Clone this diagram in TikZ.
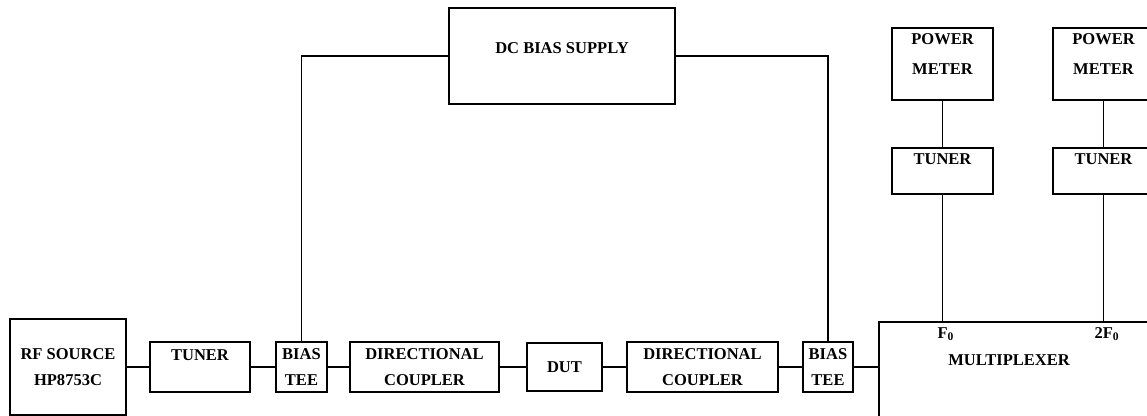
\documentclass[tikz,border=0pt]{standalone}
\usepackage{fontspec}
\setmainfont{Liberation Serif}
\usetikzlibrary{positioning, calc}
\tikzset{every node/.style={font=\fontsize{9.4}{15}\selectfont\bfseries}}
\colorlet{boxline}{black}
\colorlet{wirecol}{black}

\begin{document}
\begin{tikzpicture}[
  blk/.style={draw=boxline, line width=1.1pt, inner sep=0pt, align=center},
  lbl/.style={inner sep=1pt, align=center},
  wire/.style={draw=wirecol, line width=0.9pt}]

\useasboundingbox (0,0) rectangle (22.94,8.30);
\clip (0,0) rectangle (22.94,8.30);

% RF chain
\node[blk, minimum width=2.32cm, minimum height=1.92cm] (rfsrc) at (1.36,0.96) {RF SOURCE\\HP8753C};
\node[blk, minimum width=2.0cm, minimum height=1.0cm,
      label={[lbl, below=3.5pt]north:TUNER}] (tunA) at (4.0,0.96) {};
\node[blk, minimum width=1.02cm, minimum height=1.0cm] (teeA) at (6.03,0.96) {BIAS\\TEE};
\node[blk, minimum width=2.98cm, minimum height=1.0cm] (cplA) at (8.49,0.96) {DIRECTIONAL\\COUPLER};
\node[blk, minimum width=1.5cm, minimum height=0.96cm] (dut) at (11.29,0.96) {DUT};
\node[blk, minimum width=3.02cm, minimum height=1.0cm] (cplB) at (14.05,0.96) {DIRECTIONAL\\COUPLER};
\node[blk, minimum width=1.0cm, minimum height=1.0cm] (teeB) at (16.56,0.96) {BIAS\\TEE};

% Multiplexer (runs off the page)
\node[blk, anchor=north west, minimum width=7cm, minimum height=3cm] (mux) at (17.56,1.88) {};
\node (muxtxt) at (20.18,1.10) {MULTIPLEXER};

% DC bias supply
\node[blk, minimum width=4.52cm, minimum height=1.92cm,
      label={[lbl, below=0.66cm]north:DC BIAS SUPPLY}] (dcsup) at (11.24,7.18) {};

% Power meters and tuners
\node[blk, minimum width=2.02cm, minimum height=1.44cm,
      label={[lbl, below=2.5pt, font=\fontsize{9.4}{17}\selectfont\bfseries]north:POWER\\METER}] (pmA) at (18.85,7.02) {};
\node[blk, minimum width=2.02cm, minimum height=0.92cm,
      label={[lbl, below=2.5pt]north:TUNER}] (tunF) at (18.85,4.88) {};
\node[blk, minimum width=2.02cm, minimum height=1.44cm,
      label={[lbl, below=2.5pt, font=\fontsize{9.4}{17}\selectfont\bfseries]north:POWER\\METER}] (pmB) at (22.07,7.02) {};
\node[blk, minimum width=2.02cm, minimum height=0.92cm,
      label={[lbl, below=2.5pt]north:TUNER}] (tunH) at (22.07,4.88) {};

\coordinate (fA) at (tunF.south |- mux.north);
\coordinate (fB) at (tunH.south |- mux.north);
\node[below=0pt of fA, xshift=2pt] (fAtxt) {F\textsubscript{0}};
\node[below=0pt of fB, xshift=2pt] (fBtxt) {2F\textsubscript{0}};

% Connections
\draw[wire] (rfsrc) -- (tunA);
\draw[wire] (tunA) -- (teeA);
\draw[wire] (teeA) -- (cplA);
\draw[wire] (cplA) -- (dut);
\draw[wire] (dut) -- (cplB);
\draw[wire] (cplB) -- (teeB);
\draw[wire, line width=1.6pt] (teeB.east) -- (teeB.east -| mux.west);
\draw[wire] (dcsup.west) -| (teeA.north);
\draw[wire] (dcsup.east) -| (teeB.north);
\draw[wire, line width=0.7pt] (pmA) -- (tunF);
\draw[wire, line width=0.7pt] (tunF) -- (fA);
\draw[wire, line width=0.7pt] (pmB) -- (tunH);
\draw[wire, line width=0.7pt] (tunH) -- (fB);

\end{tikzpicture}
\end{document}
